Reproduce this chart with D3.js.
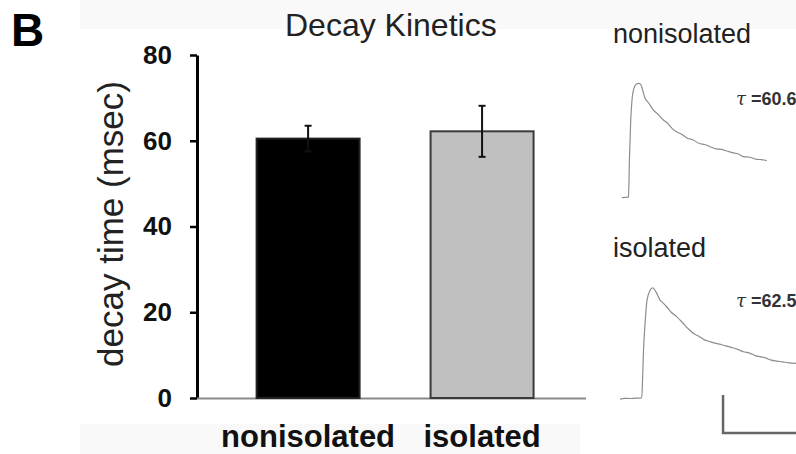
<!DOCTYPE html>
<html>
<head>
<meta charset="utf-8">
<script src="https://cdn.jsdelivr.net/npm/d3@7"></script>
<style>
  html, body { margin: 0; padding: 0; background: #fff; }
  svg { display: block; font-family: "Liberation Sans", Arial, sans-serif; }
</style>
</head>
<body>
<svg id="chart" width="796" height="454"></svg>
<script>
// Mean decay time (msec) per group, with SEM
const categories = ["nonisolated", "isolated"];
const decayMeans = [60.5, 62.2];
const decaySem = [3.0, 5.95];
const yTicks = [0, 20, 40, 60, 80];

// Example current traces: time (ms) and amplitude (pA)
const trace1Time = [1.1, 5, 5.3, 5.9, 6.6, 7.5, 8.75, 10.3, 11.9, 13.1, 15.6, 18.0, 20.8, 23.5, 27.1, 30.0, 32.5, 35.4, 39.0, 42.0, 45.8, 49.5, 53.0, 56.3, 60.0, 63.5, 66.7, 70.0, 74.0, 77.1, 81.0, 85.4, 88.5, 91.7];
const trace1Amp  = [-0.1, 0.2, 0.3, 19.7, 38.2, 51.3, 57.6, 59.7, 60.1, 59.2, 52.4, 49.6, 46.1, 44.0, 40.8, 38.9, 36.4, 34.6, 33.0, 31.2, 30.3, 28.4, 27.9, 26.7, 25.6, 25.3, 24.5, 23.6, 22.9, 21.5, 21.2, 20.1, 19.9, 19.4];
const trace2Time = [0, 3, 6.25, 10, 13.6, 14.1, 14.7, 15.6, 16.9, 18.75, 20.4, 22.5, 25, 27.0, 29.2, 32.0, 35.4, 39.0, 42.5, 45.8, 49.0, 52.5, 56.3, 60.0, 63.5, 66.7, 70.0, 74.0, 77.1, 81.0, 84.5, 87.5, 91.0, 94.5, 97.9, 101.5, 105.5, 109.6, 114];
const trace2Amp  = [-0.3, 0.1, 0, 0.2, 0.3, 9.7, 25.5, 38.7, 51.8, 56.8, 58.3, 56.1, 51.8, 50.2, 48.3, 45.4, 43.1, 40.0, 36.8, 34.3, 32.9, 31.0, 29.9, 29.0, 28.3, 27.6, 26.8, 25.7, 24.6, 23.9, 22.6, 22.0, 21.4, 20.2, 19.7, 19.3, 18.8, 18.5, 18.3];
const traceLabels = ["nonisolated", "isolated"];
const tauValues = [60.6, 62.5];
// Scale bar: 20 pA vertical, 50 ms horizontal
const scaleBarAmp = 20;
const scaleBarTime = 50;

const svg = d3.select("#chart");

// faint paper tone bands
svg.append("rect").attr("x", 80).attr("y", 0).attr("width", 716).attr("height", 29).attr("fill", "#f9f9f9");
svg.append("rect").attr("x", 80).attr("y", 424).attr("width", 500).attr("height", 30).attr("fill", "#f9f9f9");

// ---- bar chart ----
const x = d3.scaleBand()
  .domain(categories)
  .range([197, 586])
  .paddingInner(0.408)
  .paddingOuter(0.322)
  .align(0.532);

const y = d3.scaleLinear().domain([0, 80]).range([398, 55]);

// panel letter
svg.append("text")
  .attr("x", 11).attr("y", 46)
  .attr("font-size", 46).attr("font-weight", "bold")
  .attr("fill", "#000")
  .text("B");

// title
svg.append("text")
  .attr("x", 285).attr("y", 36)
  .attr("font-size", 32)
  .attr("fill", "#222")
  .text("Decay Kinetics");

// y axis
const yAxis = d3.axisLeft(y).tickValues(yTicks).tickSize(7).tickPadding(18).tickSizeOuter(0);
const gy = svg.append("g").attr("transform", "translate(197,0)").call(yAxis);
gy.select(".domain").attr("stroke", "#000").attr("stroke-width", 3);
gy.selectAll(".tick line").attr("stroke", "#000").attr("stroke-width", 2.5);
gy.selectAll(".tick text")
  .attr("font-size", 26).attr("font-weight", "bold")
  .attr("font-family", "'Liberation Sans', Arial, sans-serif")
  .attr("fill", "#111");

// y axis title
svg.append("text")
  .attr("transform", "translate(123,224) rotate(-90)")
  .attr("text-anchor", "middle")
  .attr("font-size", 35)
  .attr("fill", "#222")
  .text("decay time (msec)");

// baseline
svg.append("line")
  .attr("x1", 197).attr("x2", 586)
  .attr("y1", y(0) + 0.5).attr("y2", y(0) + 0.5)
  .attr("stroke", "#8a8a8a").attr("stroke-width", 2);

// bars
const barFill = ["#000", "#c0c0c0"];
const barStroke = ["#222", "#3a3a3a"];
svg.selectAll("rect.bar")
  .data(categories)
  .join("rect")
  .attr("class", "bar")
  .attr("x", d => x(d))
  .attr("width", x.bandwidth())
  .attr("y", (d, i) => y(decayMeans[i]))
  .attr("height", (d, i) => y(0) - y(decayMeans[i]))
  .attr("fill", (d, i) => barFill[i])
  .attr("stroke", (d, i) => barStroke[i])
  .attr("stroke-width", 2);

// error bars
categories.forEach((c, i) => {
  const cx = x(c) + x.bandwidth() / 2;
  const hi = decayMeans[i] + decaySem[i];
  const lo = decayMeans[i] - decaySem[i];
  const g = svg.append("g").attr("stroke", "#111").attr("stroke-width", 2);
  g.append("line").attr("x1", cx).attr("x2", cx).attr("y1", y(hi)).attr("y2", y(lo));
  g.append("line").attr("x1", cx - 3.5).attr("x2", cx + 3.5).attr("y1", y(hi)).attr("y2", y(hi));
  g.append("line").attr("x1", cx - 3.5).attr("x2", cx + 3.5).attr("y1", y(lo)).attr("y2", y(lo));
});

// category labels
svg.selectAll("text.cat")
  .data(categories)
  .join("text")
  .attr("class", "cat")
  .attr("x", d => x(d) + x.bandwidth() / 2)
  .attr("y", 447)
  .attr("text-anchor", "middle")
  .attr("font-size", 31).attr("font-weight", "bold")
  .attr("fill", "#111")
  .text(d => d);

// ---- example traces ----
const xt = d3.scaleLinear().domain([0, 110]).range([620, 796]);
const ytScales = [
  d3.scaleLinear().domain([0, 60]).range([197.5, 83.5]),
  d3.scaleLinear().domain([0, 60]).range([398.5, 284.5])
];
const traces = [
  { t: trace1Time, a: trace1Amp },
  { t: trace2Time, a: trace2Amp }
];
const labelY = [43, 257];
const tauY = [105, 307];

traces.forEach((tr, k) => {
  const yt = ytScales[k];
  const line = d3.line()
    .x((d, i) => xt(tr.t[i]))
    .y((d, i) => yt(tr.a[i]))
    .curve(d3.curveMonotoneX);
  svg.append("path")
    .datum(tr.t)
    .attr("d", line)
    .attr("fill", "none")
    .attr("stroke", "#8c8c8c")
    .attr("stroke-width", 1.2);

  svg.append("text")
    .attr("x", 613).attr("y", labelY[k])
    .attr("font-size", 27)
    .attr("fill", "#222")
    .text(traceLabels[k]);

  const tau = svg.append("text")
    .attr("x", 736).attr("y", tauY[k])
    .attr("font-size", 18)
    .attr("fill", "#333");
  tau.append("tspan")
    .attr("font-family", "'DejaVu Serif', serif")
    .attr("font-style", "italic")
    .text("τ");
  tau.append("tspan")
    .attr("font-weight", "bold")
    .text(" =" + tauValues[k]);
});

// scale bar under the isolated trace
const sbT = 64.4, sbA = -18.2;
const yt2 = ytScales[1];
svg.append("path")
  .attr("d", d3.line()([
    [xt(sbT), yt2(sbA + scaleBarAmp)],
    [xt(sbT), yt2(sbA)],
    [xt(sbT + scaleBarTime), yt2(sbA)]
  ]))
  .attr("fill", "none")
  .attr("stroke", "#666")
  .attr("stroke-width", 2.5);
</script>
</body>
</html>
